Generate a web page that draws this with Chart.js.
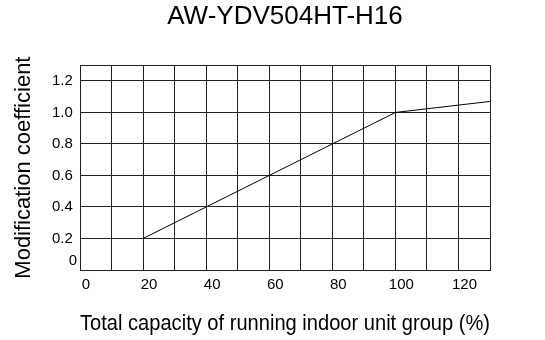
<!DOCTYPE html>
<html>
<head>
<meta charset="utf-8">
<script src="https://cdn.jsdelivr.net/npm/chart.js@4/dist/chart.umd.min.js"></script>
<style>
  body { margin: 0; background: #fff; }
  #wrap { width: 545px; height: 340px; }
</style>
</head>
<body>
<div id="wrap"><canvas id="chart" width="545" height="340"></canvas></div>
<script>
// capacity (%) vs modification coefficient
var capacity = [20, 100, 130];
var coefficient = [0.2, 1.0, 1.07];

var xTicks = [0, 10, 20, 30, 40, 50, 60, 70, 80, 90, 100, 110, 120, 130];
var xLabels = [0, 20, 40, 60, 80, 100, 120];
var yTicks = [0, 0.2, 0.4, 0.6, 0.8, 1.0, 1.2, 1.3];
var yLabels = [0, 0.2, 0.4, 0.6, 0.8, 1.0, 1.2];

var chartTitle = 'AW-YDV504HT-H16';
var xTitle = 'Total capacity of running indoor unit group (%)';
var yTitle = 'Modification coefficient';

var font = 'Liberation Sans, Arial, sans-serif';
var gridColor = '#222';

var points = capacity.map(function (c, i) {
    return { x: c, y: coefficient[i] };
});

new Chart('chart', {
    type: 'line',
    data: {
        datasets: [{
            data: points,
            borderColor: '#000',
            borderWidth: 1,
            pointRadius: 0,
            fill: false,
            tension: 0
        }]
    },
    options: {
        responsive: false,
        animation: false,
        layout: {
            padding: { top: 0, right: 55, bottom: 0, left: 0 }
        },
        plugins: {
            legend: { display: false },
            tooltip: { enabled: false },
            title: {
                display: true,
                fullSize: false,
                text: chartTitle,
                color: '#000',
                font: { family: font, size: 26, weight: 'normal' },
                padding: { top: 1, bottom: 33 }
            }
        },
        scales: {
            x: {
                type: 'linear',
                min: 0,
                max: 130,
                afterBuildTicks: function (scale) {
                    scale.ticks = xTicks.map(function (v) { return { value: v }; });
                },
                afterFit: function (scale) {
                    scale.height = 70;
                },
                ticks: {
                    autoSkip: false,
                    maxRotation: 0,
                    padding: 6,
                    labelOffset: 6,
                    color: '#000',
                    font: { family: font, size: 15 },
                    callback: function (v) {
                        return xLabels.indexOf(v) >= 0 ? String(v) : '';
                    }
                },
                grid: { color: gridColor, lineWidth: 1, drawTicks: false },
                border: { color: gridColor, width: 1 },
                title: {
                    display: true,
                    align: 'start',
                    text: xTitle,
                    color: '#000',
                    font: { family: font, size: 22 },
                    padding: { top: 16, bottom: 3 }
                }
            },
            y: {
                type: 'linear',
                min: 0,
                max: 1.3,
                afterBuildTicks: function (scale) {
                    scale.ticks = yTicks.map(function (v) { return { value: v }; });
                },
                afterFit: function (scale) {
                    scale.width = 80;
                },
                ticks: {
                    autoSkip: false,
                    padding: 3,
                    color: '#000',
                    font: { family: font, size: 15 },
                    callback: function (v) {
                        if (yLabels.indexOf(v) < 0) return '';
                        // the zero sits in the corner, a little above the axis
                        return v === 0 ? ['0', ''] : v.toFixed(1) + ' ';
                    }
                },
                grid: { color: gridColor, lineWidth: 1, drawTicks: false },
                border: { color: gridColor, width: 1 },
                title: {
                    display: true,
                    text: yTitle,
                    color: '#000',
                    font: { family: font, size: 22 },
                    padding: { top: 11, bottom: 0 }
                }
            }
        }
    }
});
</script>
</body>
</html>
